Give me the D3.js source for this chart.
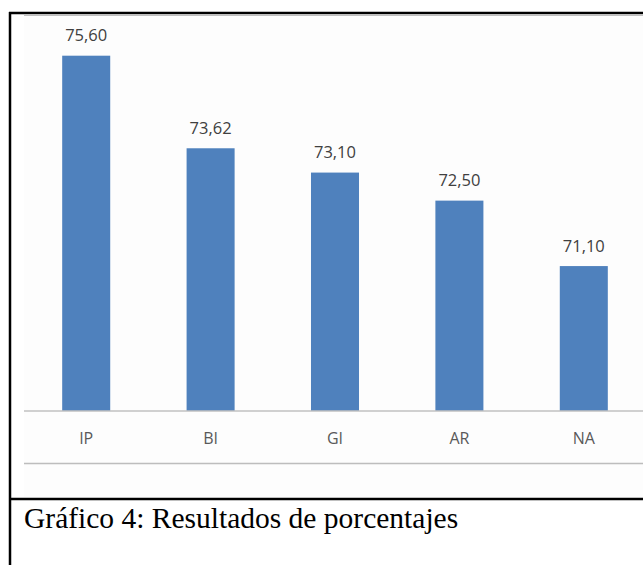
<!DOCTYPE html>
<html><head><meta charset="utf-8">
<script src="https://cdn.jsdelivr.net/npm/d3@7"></script>
<style>html,body{margin:0;padding:0;background:#fff;}svg{display:block;}</style>
</head><body>
<script>
const categories = ["IP", "BI", "GI", "AR", "NA"];
const values = [75.60, 73.62, 73.10, 72.50, 71.10];
const valueLabels = ["75,60", "73,62", "73,10", "72,50", "71,10"];
const caption = "Gráfico 4: Resultados de porcentajes";

const W = 643, H = 565;
const svg = d3.select("body").append("svg").attr("width", W).attr("height", H);

const baseY = 411;
const x = d3.scaleBand().domain(categories).range([24, 646]).paddingInner(0.614).paddingOuter(0.307);
const y = d3.scaleLinear().domain([68, 76]).range([baseY, 37]);

// panel
svg.append("rect").attr("x", 24).attr("y", 15).attr("width", W - 24).attr("height", 482).attr("fill", "#fdfdfd");
svg.append("line").attr("x1", 24).attr("x2", W).attr("y1", 15.5).attr("y2", 15.5).attr("stroke", "#bfbfbf").attr("stroke-width", 1);

svg.selectAll("rect.bar").data(values).enter().append("rect").attr("class", "bar")
  .attr("x", (d, i) => x(categories[i]))
  .attr("width", x.bandwidth())
  .attr("y", d => y(d))
  .attr("height", d => baseY - y(d))
  .attr("fill", "#4f81bd");

svg.selectAll("text.val").data(values).enter().append("text").attr("class", "val")
  .attr("x", (d, i) => x(categories[i]) + x.bandwidth() / 2)
  .attr("y", d => y(d) - 14.5)
  .attr("text-anchor", "middle")
  .attr("font-family", "Open Sans, sans-serif").attr("font-size", 16.5)
  .attr("fill", "#404040")
  .text((d, i) => valueLabels[i]);

// axis
const ax = svg.append("g").attr("transform", `translate(0,${baseY})`)
  .call(d3.axisBottom(x).tickSize(0).tickPadding(22));
ax.select(".domain").attr("stroke", "#c0c0c0").attr("stroke-width", 1.5).attr("d", `M24,0H${W}`);
ax.selectAll("text").attr("font-family", "Open Sans, sans-serif").attr("font-size", 16).attr("fill", "#595959");

svg.append("line").attr("x1", 24).attr("x2", W).attr("y1", 463.5).attr("y2", 463.5).attr("stroke", "#bdbdbd").attr("stroke-width", 1.5);

// borders
svg.append("line").attr("x1", 9).attr("x2", W).attr("y1", 13).attr("y2", 13).attr("stroke", "#000").attr("stroke-width", 2.5);
svg.append("line").attr("x1", 10).attr("x2", 10).attr("y1", 12).attr("y2", H).attr("stroke", "#000").attr("stroke-width", 2.5);
svg.append("line").attr("x1", 9).attr("x2", W).attr("y1", 499).attr("y2", 499).attr("stroke", "#000").attr("stroke-width", 2.5);

svg.append("text").attr("x", 24).attr("y", 528)
  .attr("font-family", "Liberation Serif, Times New Roman, serif").attr("font-size", 29.5)
  .attr("fill", "#000").text(caption);
</script>
</body></html>
